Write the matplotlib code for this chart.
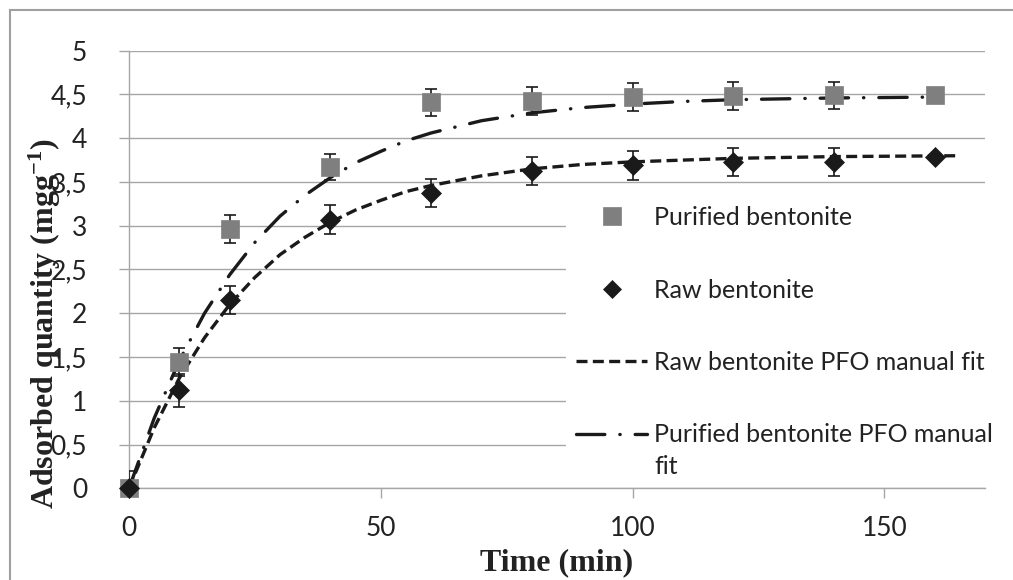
import matplotlib
matplotlib.use("Agg")
import matplotlib.pyplot as plt
from matplotlib.lines import Line2D
from matplotlib.ticker import FuncFormatter, MultipleLocator

# ---- data ----
time_pts = [0, 10, 20, 40, 60, 80, 100, 120, 140, 160]
purified = [0.0, 1.44, 2.96, 3.67, 4.41, 4.42, 4.47, 4.48, 4.49, 4.49]
purified_err = [0.0, 0.16, 0.16, 0.15, 0.155, 0.16, 0.16, 0.16, 0.155, 0.0]
raw = [0.0, 1.12, 2.15, 3.07, 3.37, 3.63, 3.69, 3.73, 3.73, 3.79]
raw_err = [0.2, 0.19, 0.16, 0.17, 0.16, 0.16, 0.165, 0.16, 0.16, 0.0]

fit_raw_t = [0, 5, 10, 15, 20, 25, 30, 35, 40, 45, 50, 55, 60, 70, 80, 90, 100, 110, 120, 140, 165]
fit_raw_q = [0.0, 0.69, 1.26, 1.72, 2.10, 2.41, 2.67, 2.87, 3.04, 3.18, 3.29, 3.39, 3.46, 3.57, 3.65, 3.70, 3.73, 3.75, 3.77, 3.79, 3.80]
fit_pur_t = [0, 5, 10, 15, 20, 25, 30, 35, 40, 45, 50, 55, 60, 70, 80, 90, 100, 110, 120, 140, 160]
fit_pur_q = [0.0, 0.80, 1.46, 2.00, 2.44, 2.81, 3.11, 3.35, 3.55, 3.72, 3.85, 3.97, 4.06, 4.20, 4.29, 4.35, 4.39, 4.42, 4.44, 4.46, 4.47]

labels = ["Purified bentonite", "Raw bentonite",
          "Raw bentonite PFO manual fit", "Purified bentonite PFO manual"]
label_wrap = "fit"

plt.rcParams['mathtext.fontset'] = 'custom'
plt.rcParams['mathtext.rm'] = 'Liberation Serif:bold'
plt.rcParams['mathtext.bf'] = 'Liberation Serif:bold'
plt.rcParams['mathtext.it'] = 'Liberation Serif:bold'

W, H = 1013, 580
fig = plt.figure(figsize=(W / 100, H / 100), dpi=100)
ax = fig.add_axes([129 / W, 1 - 488.3 / H, (985 - 129) / W, (488.3 - 50.7) / H])

grid_c = '#a6a6a6'
txt_c = '#222222'

# error bars (under markers)
ax.errorbar(time_pts, purified, yerr=purified_err, fmt='none', ecolor='#1a1a1a',
            elinewidth=1.2, capsize=4.3, capthick=1.2, zorder=3)
ax.errorbar(time_pts, raw, yerr=raw_err, fmt='none', ecolor='#1a1a1a',
            elinewidth=1.2, capsize=4.3, capthick=1.2, zorder=3)

# fits
l_raw, = ax.plot(fit_raw_t, fit_raw_q, color='#1a1a1a', lw=2.4,
                 linestyle=(0, (3.3, 1.6)), zorder=4)
l_pur, = ax.plot(fit_pur_t, fit_pur_q, color='#1a1a1a', lw=2.4,
                 linestyle=(0, (8.5, 4.5, 0.1, 4.5)), dash_capstyle='round', zorder=4)

# markers
m_pur, = ax.plot(time_pts, purified, 's', ms=12.5, color='#7f7f7f', mec='#7f7f7f',
                 mew=0.5, clip_on=False, zorder=5)
m_raw, = ax.plot(time_pts, raw, 'D', ms=10, color='#1a1a1a', mec='#1a1a1a',
                 mew=0.5, clip_on=False, zorder=6)

ax.set_xlim(0, 170)
ax.set_ylim(0, 5)
ax.xaxis.set_major_locator(MultipleLocator(50))
ax.yaxis.set_major_locator(MultipleLocator(0.5))

def fmt(v, pos):
    s = ('%g' % v)
    return s.replace('.', ',')

ax.yaxis.set_major_formatter(FuncFormatter(fmt))
ax.xaxis.set_major_formatter(FuncFormatter(fmt))

for s in ['top', 'right']:
    ax.spines[s].set_visible(False)
for s in ['left', 'bottom']:
    ax.spines[s].set_color(grid_c)
    ax.spines[s].set_linewidth(1.0)

ax.yaxis.grid(True, color=grid_c, lw=1.0)
ax.set_axisbelow(True)
ax.tick_params(axis='both', direction='out', length=7.2, width=1.0, color=grid_c,
               labelsize=19, labelcolor=txt_c)
ax.tick_params(axis='y', pad=23)
ax.tick_params(axis='x', pad=13)
for lab in ax.get_xticklabels() + ax.get_yticklabels():
    lab.set_family('Lato')

ax.set_xlabel('Time (min)', family='Liberation Serif', fontweight='bold',
              fontsize=23, color=txt_c)
ax.set_ylabel(r'Adsorbed quantity (mgg$^{-1}$)', family='Liberation Serif',
              fontweight='bold', fontsize=23, color=txt_c)
ax.xaxis.set_label_coords(0.5, -0.136)
ax.yaxis.set_label_coords(-0.077, 0.375)

leg = ax.legend([m_pur, m_raw, l_raw, l_pur], labels, loc='upper left',
                bbox_to_anchor=(566 / W, 1 - 196 / H), bbox_transform=fig.transFigure,
                borderaxespad=0, frameon=True, fancybox=False, facecolor='white',
                edgecolor='none', framealpha=1, prop={'family': 'Lato', 'size': 18},
                handlelength=2.85, handletextpad=0.28, labelspacing=1.98,
                borderpad=0.4, numpoints=1)
for t in leg.get_texts():
    t.set_color(txt_c)
leg.set_zorder(10)
leg.legend_handles[0].set_markersize(12.5)
leg.legend_handles[1].set_markersize(8.7)

ax.annotate(label_wrap, xy=(0, 1), xycoords=leg.get_texts()[3],
            xytext=(0, -32 * 0.72), textcoords='offset points',
            ha='left', va='top', family='Lato', fontsize=18, color=txt_c,
            zorder=11, annotation_clip=False)

# outer chart-area border
fig.add_artist(Line2D([9.5 / W, 9.5 / W], [0, 1 - 9.5 / H], transform=fig.transFigure,
                      color='#a0a0a0', lw=1.5))
fig.add_artist(Line2D([9.5 / W, 1], [1 - 9.5 / H, 1 - 9.5 / H], transform=fig.transFigure,
                      color='#a0a0a0', lw=1.5))

fig.savefig('out.png', dpi=100, facecolor='white')
